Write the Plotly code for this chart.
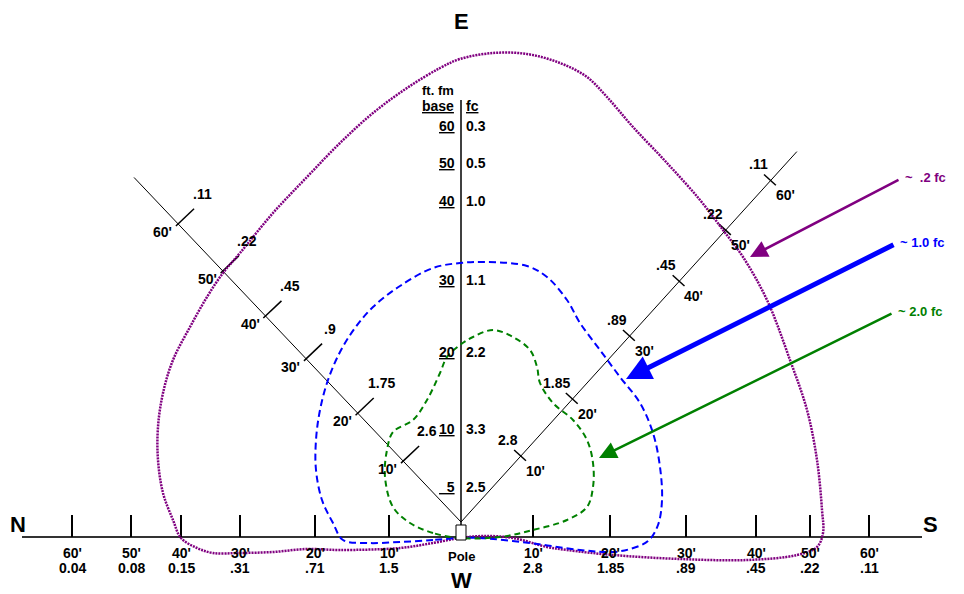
import numpy as np
import plotly.graph_objects as go

# ---- readings along the N-S base line (position = drawn distance from pole) ----
north_feet = ["60'", "50'", "40'", "30'", "20'", "10'"]
north_fc = ["0.04", "0.08", "0.15", ".31", ".71", "1.5"]
north_pos = [-389, -330, -280, -221, -146, -72]
south_feet = ["10'", "20'", "30'", "40'", "50'", "60'"]
south_fc = ["2.8", "1.85", ".89", ".45", ".22", ".11"]
south_pos = [72, 149, 225, 295, 349, 408]

# ---- readings along the vertical (E) axis ----
east_feet = ["60", "50", "40", "30", "20", "10", "&nbsp;&nbsp;5"]
east_fc = ["0.3", "0.5", "1.0", "1.1", "2.2", "3.3", "2.5"]
east_pos = [411, 374, 336, 257, 185, 108, 50]

# ---- readings along the two diagonals ----
diag_feet = ["10'", "20'", "30'", "40'", "50'", "60'"]
nw_fc = ["2.6", "1.75", ".9", ".45", ".22", ".11"]
nw_pos = [84, 150, 225, 284, 346, 411]
ne_fc = ["2.8", "1.85", ".89", ".45", ".22", ".11"]
ne_pos = [89, 166, 251, 325, 394, 461]

# ---- iso-footcandle contours (offset from pole: right, up) ----
c02_x = [-1, -28, -61, -121, -154, -188, -221, -248, -264, -280, -288, -298, -303, -303, -298,
         -288, -271, -254, -238, -221, -188, -154, -121, -88, -54, -21, -1, 32, 66, 99, 126, 146,
         172, 206, 239, 262, 282, 306, 329, 346, 356, 361, 362, 356, 336, 286, 219, 152, 106, 86,
         52, 22, -1]
c02_y = [-1, -6, -11, -13, -12, -15, -16, -16, -11, -1, 17, 44, 77, 110, 144,
         177, 210, 240, 264, 284, 324, 360, 394, 424, 449, 469, 478, 484, 483, 474, 460, 440,
         410, 374, 337, 307, 280, 237, 177, 127, 77, 27, 4, -10, -18, -23, -22, -18, -13, -10,
         -1, 1, -1]
c10_x = [-1, -28, -61, -94, -118, -128, -139, -145, -145, -141, -133, -121, -106, -88, -61, -28,
         -1, 26, 66, 86, 106, 119, 139, 159, 179, 192, 199, 201, 197, 187, 169, 152, 119, 69, 19, -1]
c10_y = [-1, -3, -5, -6, -3, 14, 37, 67, 97, 127, 157, 185, 209, 230, 251, 269,
         274, 275, 271, 260, 237, 214, 187, 160, 134, 104, 70, 37, 12, -4, -12, -15, -13, -6, -1, -1]
c20_x = [-1, -28, -51, -68, -76, -74, -68, -48, -34, -21, -14, -1, 12, 32, 52, 69, 76, 79, 92,
         112, 126, 132, 132, 126, 106, 72, 39, -1]
c20_y = [-1, 4, 14, 30, 60, 87, 105, 117, 137, 164, 180, 192, 200, 207, 200, 187, 170, 154, 134,
         117, 97, 74, 50, 30, 17, 7, 0, -1]

contour_labels = ["~  .2 fc", "~ 1.0 fc", "~ 2.0 fc"]
contour_colors = ["#800080", "#0000ff", "#008000"]
arrow_tail = [(439, 358), (434, 293), (432, 224)]
arrow_tip = [(289, 280), (165, 158), (138, 79)]

FONT = dict(family="Liberation Sans, Arial, sans-serif", size=14, color="black", weight="bold")

fig = go.Figure()
ann = []


def label(x, y, text, xanchor="center", size=14, color="black", yanchor="middle"):
    ann.append(dict(x=x, y=y, text=text, showarrow=False, xanchor=xanchor, yanchor=yanchor,
                    borderpad=0, font=dict(FONT, size=size, color=color)))


# base N-S line and ticks
fig.add_trace(go.Scatter(x=[-439, 461], y=[0, 0], mode="lines",
                         line=dict(color="#333333", width=2), hoverinfo="skip"))
tx, ty = [], []
for p in north_pos + south_pos:
    tx += [p, p, None]
    ty += [0, 22, None]
fig.add_trace(go.Scatter(x=tx, y=ty, mode="lines", line=dict(color="black", width=2), hoverinfo="skip"))
for p, f, c in zip(north_pos, north_feet, north_fc):
    label(p, -16, f)
    label(p, -31, c)
for p, f, c in zip(south_pos, south_feet, south_fc):
    label(p, -16, f)
    label(p, -31, c)

# vertical axis
fig.add_trace(go.Scatter(x=[0, 0], y=[12, 437], mode="lines",
                         line=dict(color="black", width=1.5), hoverinfo="skip"))
for p, f, c in zip(east_pos, east_feet, east_fc):
    label(-5, p, "<u>" + f + "</u>", xanchor="right")
    label(4, p, c, xanchor="left")
label(-23, 447, "ft. fm", size=13)
label(-23, 431, "<u>base</u>")
label(11, 431, "<u>fc</u>")

# diagonals
origin = np.array([0.0, 15.0])
for ang, length, pos, fcs, side in [(133.5, 475, nw_pos, nw_fc, "nw"), (47.8, 500, ne_pos, ne_fc, "ne")]:
    d = np.array([np.cos(np.radians(ang)), np.sin(np.radians(ang))])
    end = origin + d * length
    fig.add_trace(go.Scatter(x=[origin[0], end[0]], y=[origin[1], end[1]], mode="lines",
                             line=dict(color="black", width=1), hoverinfo="skip"))
    if side == "nw":
        perp = np.array([d[1], -d[0]])
        lo, hi = -3, 22
    else:
        perp = np.array([-d[1], d[0]])
        lo, hi = -7, 9
    tx, ty = [], []
    for p, f, c in zip(pos, diag_feet, fcs):
        cpt = origin + d * p
        a, b = cpt + perp * lo, cpt + perp * hi
        tx += [a[0], b[0], None]
        ty += [a[1], b[1], None]
        if side == "nw":
            label(cpt[0] + 24, cpt[1] + 30, c)
            label(cpt[0] - 5, cpt[1] - 8, f, xanchor="right")
        else:
            label(cpt[0] - 2, cpt[1] + 16, c, xanchor="right")
            label(cpt[0] + 4, cpt[1] - 15, f, xanchor="left")
    fig.add_trace(go.Scatter(x=tx, y=ty, mode="lines", line=dict(color="black", width=1.5),
                             hoverinfo="skip"))

# contours
fig.add_trace(go.Scatter(x=c02_x, y=c02_y, mode="lines", line_shape="spline",
                         line=dict(color=contour_colors[0], width=2.5, dash="2px,1px"), hoverinfo="skip"))
fig.add_trace(go.Scatter(x=c10_x, y=c10_y, mode="lines", line_shape="spline",
                         line=dict(color=contour_colors[1], width=2, dash="7px,4px"), hoverinfo="skip"))
fig.add_trace(go.Scatter(x=c20_x, y=c20_y, mode="lines", line_shape="spline",
                         line=dict(color=contour_colors[2], width=2, dash="6px,4px"), hoverinfo="skip"))

# arrows + legend labels
widths = [2.5, 5, 2.5]
sizes = [1.4, 1.0, 1.4]
for (tx0, ty0), (hx, hy), txt, col, w, s in zip(arrow_tail, arrow_tip, contour_labels,
                                                 contour_colors, widths, sizes):
    ann.append(dict(x=hx, y=hy, ax=tx0, ay=ty0, axref="x", ayref="y", xref="x", yref="y",
                    text="", showarrow=True, arrowhead=2, arrowsize=s, arrowwidth=w,
                    arrowcolor=col, standoff=0))
    label(tx0 + 4, ty0 + 2, txt, xanchor="left", size=13, color=col)

# compass letters and pole
label(0, 529, "E", size=22, yanchor="top")
label(0, -43, "W", size=22)
label(-443, 13, "N", size=22)
label(469, 13, "S", size=22)
label(0, -19, "Pole", size=13)

# page body has an 8px margin, so the figure is sized/ranged to land on the same pixels
fig.update_layout(
    width=956, height=586, margin=dict(l=0, r=0, t=0, b=0),
    paper_bgcolor="white", plot_bgcolor="white", showlegend=False,
    xaxis=dict(range=[-453, 503], visible=False, fixedrange=True),
    yaxis=dict(range=[-57, 529], visible=False, fixedrange=True),
    shapes=[dict(type="rect", xref="x", yref="y", x0=-5, x1=5, y0=-3, y1=12,
                 line=dict(color="black", width=1), fillcolor="white", layer="above")],
    annotations=ann,
)
fig.write_html("out.html")
